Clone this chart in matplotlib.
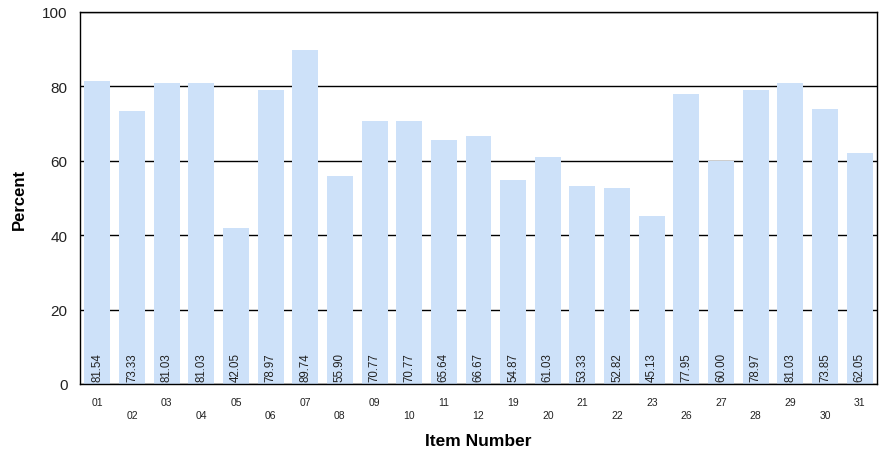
import matplotlib
matplotlib.use("Agg")
import matplotlib.pyplot as plt
import numpy as np

items = ["01", "02", "03", "04", "05", "06", "07", "08", "09", "10", "11", "12",
         "19", "20", "21", "22", "23", "26", "27", "28", "29", "30", "31"]
percent = [81.54, 73.33, 81.03, 81.03, 42.05, 78.97, 89.74, 55.90, 70.77, 70.77,
           65.64, 66.67, 54.87, 61.03, 53.33, 52.82, 45.13, 77.95, 60.00, 78.97,
           81.03, 73.85, 62.05]
y_ticks = [0, 20, 40, 60, 80, 100]

plt.rcParams['font.family'] = ['Liberation Sans', 'DejaVu Sans']

fig = plt.figure(figsize=(8.83, 4.64), dpi=100)
ax = fig.add_axes([80/883, 1 - 385/464, 797/883, 372/464])

x = np.arange(len(items))
ax.set_axisbelow(True)
ax.yaxis.grid(True, color="black", linewidth=1.0)
ax.bar(x, percent, width=0.75, color="#cde1f9", zorder=2)

for xi, v in zip(x, percent):
    ax.text(xi, 0.8, f"{v:.2f}", rotation=90, ha="center", va="bottom",
            fontsize=8.3, color="#222222", zorder=3)

ax.set_xlim(-0.5, len(items) - 0.5)
ax.set_ylim(0, 100)
ax.set_yticks(y_ticks)
ax.set_yticklabels([str(t) for t in y_ticks], fontsize=11, color="#222222")
ax.tick_params(axis="y", length=0, pad=9)

ax.set_xticks(x)
ax.set_xticklabels(items, fontsize=7.5, color="#222222")
ax.tick_params(axis="x", length=0, pad=9)
for i, lab in enumerate(ax.get_xticklabels()):
    if i % 2 == 1:
        lab.set_y(-0.035)

for s in ax.spines.values():
    s.set_color("black")
    s.set_linewidth(1.0)

ax.set_ylabel("Percent", fontsize=12, fontweight="bold", labelpad=11)
ax.set_xlabel("Item Number", fontsize=12.5, fontweight="bold", labelpad=10)

fig.savefig("out.png", dpi=100)
